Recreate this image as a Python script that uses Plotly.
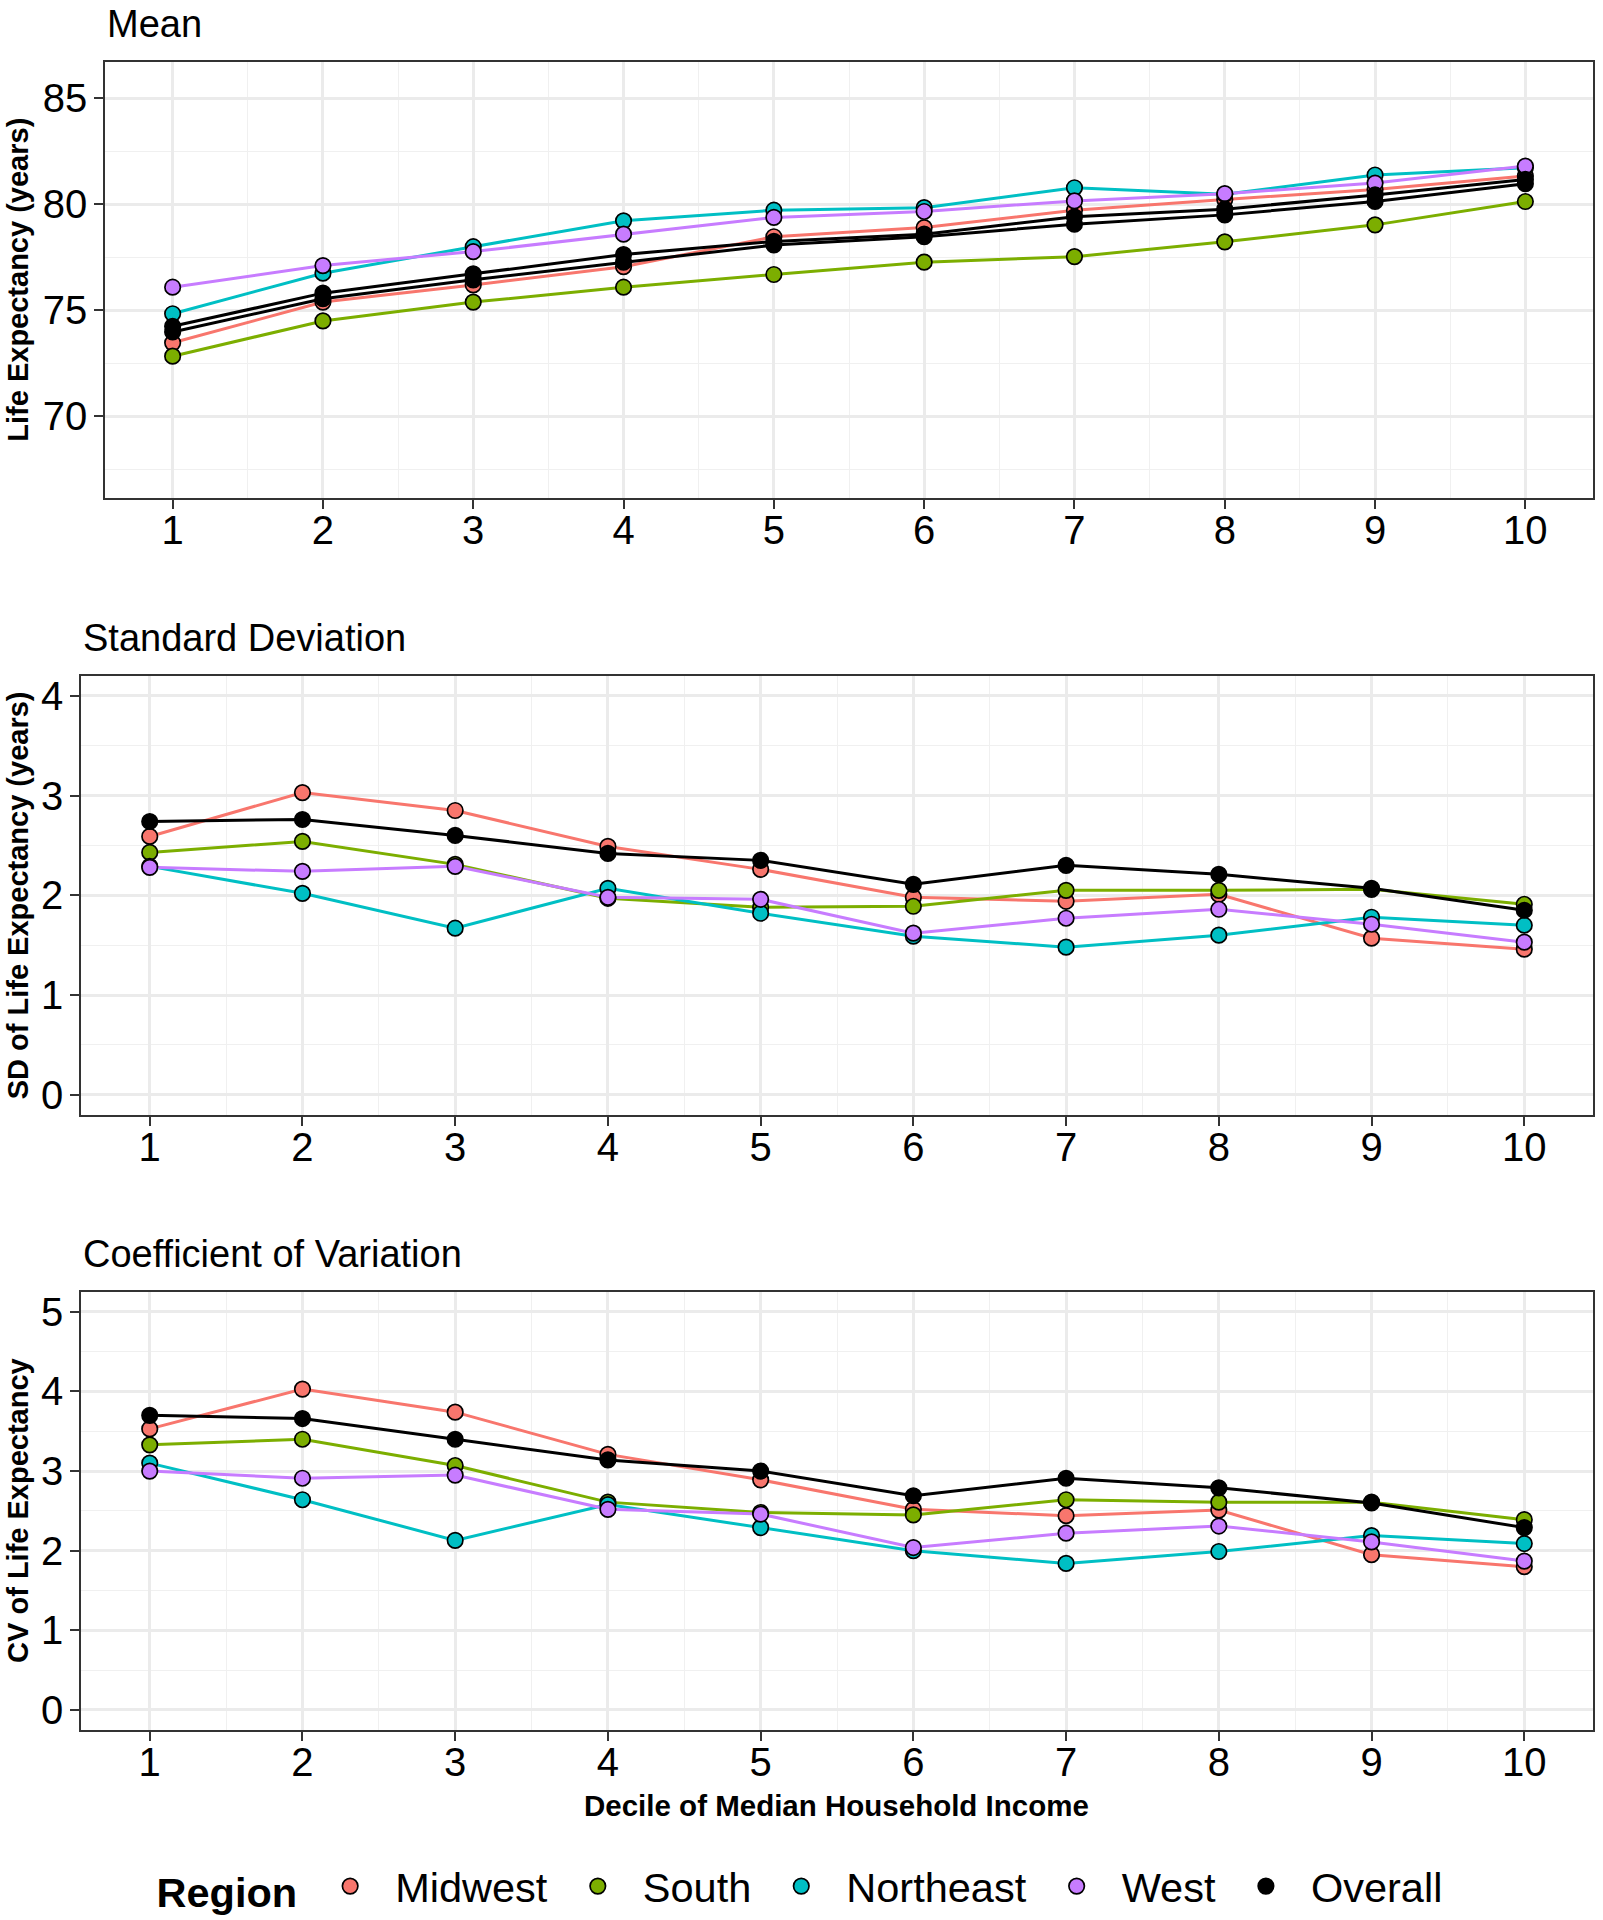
import plotly.graph_objects as go

deciles = [1, 2, 3, 4, 5, 6, 7, 8, 9, 10]
regions = ["Midwest", "South", "Northeast", "West", "Overall"]

mean_midwest = [73.47, 75.39, 76.20, 77.06, 78.47, 78.90, 79.72, 80.23, 80.70, 81.33]
mean_south = [72.84, 74.50, 75.39, 76.09, 76.69, 77.27, 77.53, 78.23, 79.03, 80.13]
mean_northeast = [74.84, 76.75, 78.00, 79.22, 79.72, 79.84, 80.78, 80.47, 81.38, 81.72]
mean_west = [76.09, 77.11, 77.77, 78.59, 79.38, 79.66, 80.16, 80.50, 81.00, 81.80]
mean_overall_a = [74.25, 75.81, 76.72, 77.63, 78.25, 78.59, 79.41, 79.77, 80.44, 81.17]
mean_overall_b = [73.98, 75.55, 76.44, 77.27, 78.08, 78.47, 79.06, 79.50, 80.13, 80.97]

sd_midwest = [2.59, 3.03, 2.85, 2.49, 2.26, 1.98, 1.94, 2.01, 1.57, 1.46]
sd_south = [2.43, 2.54, 2.31, 1.97, 1.88, 1.89, 2.05, 2.05, 2.06, 1.91]
sd_northeast = [2.29, 2.02, 1.67, 2.07, 1.82, 1.59, 1.48, 1.60, 1.78, 1.70]
sd_west = [2.28, 2.24, 2.29, 1.98, 1.96, 1.62, 1.77, 1.86, 1.71, 1.53]
sd_overall = [2.74, 2.76, 2.60, 2.42, 2.35, 2.11, 2.30, 2.21, 2.07, 1.85]

cv_midwest = [3.53, 4.03, 3.74, 3.21, 2.89, 2.52, 2.44, 2.51, 1.95, 1.80]
cv_south = [3.33, 3.40, 3.07, 2.61, 2.48, 2.45, 2.64, 2.61, 2.61, 2.39]
cv_northeast = [3.10, 2.64, 2.13, 2.58, 2.29, 2.00, 1.84, 1.99, 2.19, 2.09]
cv_west = [3.00, 2.91, 2.95, 2.52, 2.46, 2.04, 2.22, 2.31, 2.11, 1.87]
cv_overall = [3.70, 3.66, 3.40, 3.14, 3.00, 2.69, 2.91, 2.79, 2.60, 2.29]

colors = {"Midwest": "#F8766D", "South": "#7CAE00", "Northeast": "#00BFC4",
          "West": "#C77CFF", "Overall": "#000000"}

panels = [
    {"series": [("Midwest", mean_midwest), ("South", mean_south), ("Northeast", mean_northeast),
                ("West", mean_west), ("Overall", mean_overall_a), ("Overall", mean_overall_b)],
     "title": "Mean", "ytitle": "Life Expectancy (years)"},
    {"series": [("Midwest", sd_midwest), ("South", sd_south), ("Northeast", sd_northeast),
                ("West", sd_west), ("Overall", sd_overall)],
     "title": "Standard Deviation", "ytitle": "SD of Life Expectancy (years)"},
    {"series": [("Midwest", cv_midwest), ("South", cv_south), ("Northeast", cv_northeast),
                ("West", cv_west), ("Overall", cv_overall)],
     "title": "Coefficient of Variation", "ytitle": "CV of Life Expectancy"},
]

W, H = 1603, 1920
FONT = "Liberation Sans, Arial, sans-serif"


def PX(x):
    return x / W


def PY(y):
    return 1 - y / H


# pixel boxes of the panels (page coords): (left, right, top, bottom)
boxes = [(105, 1593, 60, 498), (81, 1593, 677, 1118), (81, 1593, 1296, 1736)]
yranges = [[66.17, 86.72], [-0.2, 4.2], [-0.25, 5.25]]
ydticks = [5, 1, 1]

fig = go.Figure()

for i, p in enumerate(panels):
    sfx = "" if i == 0 else str(i + 1)
    xa, ya = "x" + sfx, "y" + sfx
    for name, vals in p["series"]:
        fig.add_trace(go.Scatter(x=deciles, y=vals, mode="lines", xaxis=xa, yaxis=ya,
                                 line=dict(color=colors[name], width=3),
                                 showlegend=False, hoverinfo="skip"))
    seen = set()
    for name, vals in p["series"]:
        show = (i == 0 and name not in seen)
        seen.add(name)
        fig.add_trace(go.Scatter(x=deciles, y=vals, mode="markers", xaxis=xa, yaxis=ya,
                                 name=name, legendgroup=name, showlegend=show,
                                 marker=dict(color=colors[name], size=15.5,
                                             line=dict(color="black", width=1.7))))
    l, r, t, b = boxes[i]
    axcommon = dict(showline=True, linecolor="#333333", linewidth=1.7, mirror=True,
                    ticks="outside", ticklen=9, tickwidth=1.7, tickcolor="#333333",
                    showgrid=True, gridcolor="#EBEBEB", gridwidth=2.6, zeroline=False,
                    tickfont=dict(family=FONT, size=40, color="black"))
    fig.layout["xaxis" + sfx] = dict(
        domain=[PX(l), PX(r)], anchor=ya, range=[0.55, 10.45],
        tickmode="linear", tick0=1, dtick=1, ticklabelstandoff=-13,
        minor=dict(tick0=0.5, dtick=1, showgrid=True, gridcolor="#F0F0F0", gridwidth=1.4, ticks=""),
        **axcommon)
    fig.layout["yaxis" + sfx] = dict(
        domain=[PY(b), PY(t)], anchor=xa, range=yranges[i],
        tickmode="linear", tick0=0, dtick=ydticks[i], ticklabelstandoff=-1,
        minor=dict(tick0=0, dtick=ydticks[i] / 2, showgrid=True, gridcolor="#F0F0F0",
                   gridwidth=1.4, ticks=""),
        **axcommon)
    fig.add_annotation(text=p["title"], xref="paper", yref="paper", x=PX(l),
                       y=PY(t - 38), xanchor="left", yanchor="middle", showarrow=False,
                       font=dict(family=FONT, size=38, color="black"))
    fig.add_annotation(text="<b>" + p["ytitle"] + "</b>", xref="paper", yref="paper",
                       x=PX(18), y=PY((t + b) / 2), xanchor="center", yanchor="middle",
                       textangle=-90, showarrow=False,
                       font=dict(family=FONT, size=29, color="black"))

fig.add_annotation(text="<b>Decile of Median Household Income</b>", xref="paper", yref="paper",
                   x=PX((81 + 1592) / 2), y=PY(1812), xanchor="center", yanchor="middle",
                   showarrow=False, font=dict(family=FONT, size=29.5, color="black"))

fig.update_layout(
    width=W, height=H, autosize=False,
    margin=dict(l=0, r=0, t=0, b=0),
    paper_bgcolor="white", plot_bgcolor="white",
    showlegend=True,
    legend=dict(orientation="h", x=PX(801), xanchor="center", y=PY(1893), yanchor="middle",
                title=dict(text="<b>Region</b>", side="left",
                           font=dict(family=FONT, size=41.5, color="black")),
                font=dict(family=FONT, size=41.5, color="black"),
                itemwidth=80, traceorder="normal", bgcolor="rgba(0,0,0,0)"),
)

post = ("document.documentElement.style.margin='0';"
        "document.documentElement.style.overflow='hidden';"
        "document.body.style.margin='0';"
        "document.body.style.overflow='hidden';"
        "document.body.style.height='1920px';"
        "var gd=document.getElementById('{plot_id}');"
        "gd.style.position='absolute';gd.style.left='0px';gd.style.top='0px';")

fig.write_html("out.html", config={"displayModeBar": False}, post_script=post)
